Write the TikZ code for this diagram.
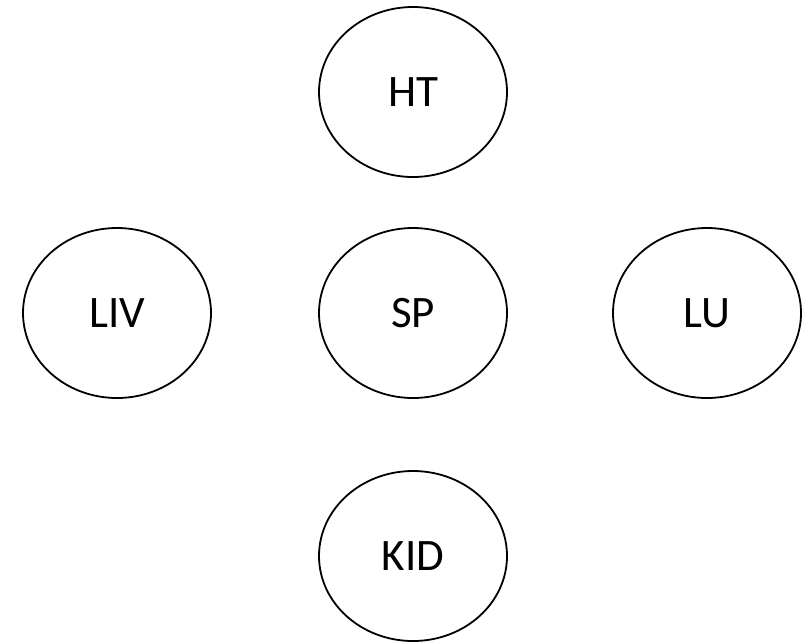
\documentclass[tikz,border=0pt]{standalone}
\usepackage{fontspec}
\setmainfont{Carlito}
\usetikzlibrary{shapes.geometric}
\begin{document}
\begin{tikzpicture}[x=1pt,y=-1pt,
  organ/.style={ellipse,draw=black,line width=1.8pt,minimum width=188pt,minimum height=170pt,inner sep=0pt,font=\fontsize{45}{54}\selectfont}]
\useasboundingbox (0,0) rectangle (802,643);
\node[organ] (ht) at (413,92) {HT};
\node[organ] (liv) at (117,313) {LIV};
\node[organ] (sp) at (413,313) {SP};
\node[organ] (lu) at (707,313) {LU};
\node[organ] (kid) at (413,556) {KID};
\end{tikzpicture}
\end{document}
